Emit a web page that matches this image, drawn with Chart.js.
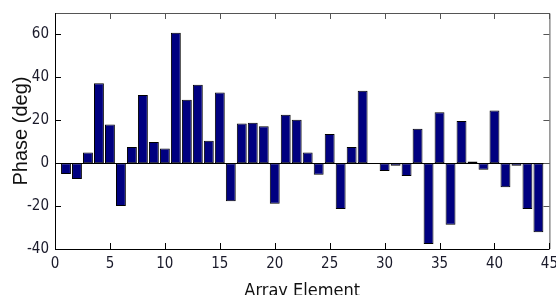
<!DOCTYPE html>
<html>
<head>
<meta charset="utf-8">
<script src="https://cdn.jsdelivr.net/npm/chart.js@4/dist/chart.umd.min.js"></script>
<style>
  html, body { margin: 0; padding: 0; background: #fff; }
  #wrap { width: 556px; height: 295px; position: relative; }
</style>
</head>
<body>
<div id="wrap"><canvas id="phaseChart"></canvas></div>
<script>
const elements = [];
for (let i = 1; i <= 44; i++) elements.push(i);
const phases = [
  -5, -7.4, 5, 37.3, 18, -20, 7.6, 31.8, 9.9, 6.8,
  60.8, 29.6, 36.6, 10.5, 32.9, -17.7, 18.5, 18.9, 17.2, -18.9,
  22.6, 20.3, 5, -5.4, 13.6, -21.4, 7.6, 33.8, 0, -3.7,
  -1.2, -6, 16.1, -37.7, 23.7, -28.7, 19.7, 0.8, -3.1, 24.5,
  -11.2, -1.2, -21.4, -32.2
];
const xTicks = [0, 5, 10, 15, 20, 25, 30, 35, 40, 45];
const yTicks = [-40, -20, 0, 20, 40, 60];

const font = "'DejaVu Sans Condensed', 'Liberation Sans Narrow', 'Liberation Sans', Arial, sans-serif";

// matlab style box: frame, inward ticks on all four sides, zero baseline
const boxPlugin = {
  id: "box",
  afterDatasetsDraw(chart) {
    const ctx = chart.ctx,
      a = chart.chartArea,
      xs = chart.scales.x,
      ys = chart.scales.y,
      tl = 6;
    ctx.save();
    ctx.lineWidth = 1;
    ctx.strokeStyle = "#000";
    const y0 = Math.round(ys.getPixelForValue(0)) + 0.5;
    ctx.beginPath();
    ctx.moveTo(a.left, y0);
    ctx.lineTo(a.right, y0);
    ctx.stroke();
    // top/right in grey
    ctx.strokeStyle = "#555";
    ctx.beginPath();
    ctx.moveTo(a.left, a.top + 0.5);
    ctx.lineTo(a.right + 0.5, a.top + 0.5);
    ctx.lineTo(a.right + 0.5, a.bottom);
    ctx.stroke();
    xTicks.forEach((v) => {
      const x = Math.round(xs.getPixelForValue(v)) + 0.5;
      ctx.beginPath();
      ctx.moveTo(x, a.top);
      ctx.lineTo(x, a.top + tl);
      ctx.stroke();
    });
    yTicks.forEach((v) => {
      const y = Math.round(ys.getPixelForValue(v)) + 0.5;
      ctx.beginPath();
      ctx.moveTo(a.right, y);
      ctx.lineTo(a.right - tl, y);
      ctx.stroke();
    });
    // left/bottom in black
    ctx.strokeStyle = "#000";
    ctx.beginPath();
    ctx.moveTo(a.left + 0.5, a.top);
    ctx.lineTo(a.left + 0.5, a.bottom + 0.5);
    ctx.lineTo(a.right, a.bottom + 0.5);
    ctx.stroke();
    xTicks.forEach((v) => {
      const x = Math.round(xs.getPixelForValue(v)) + 0.5;
      ctx.beginPath();
      ctx.moveTo(x, a.bottom);
      ctx.lineTo(x, a.bottom - tl);
      ctx.stroke();
    });
    yTicks.forEach((v) => {
      const y = Math.round(ys.getPixelForValue(v)) + 0.5;
      ctx.beginPath();
      ctx.moveTo(a.left, y);
      ctx.lineTo(a.left + tl, y);
      ctx.stroke();
    });
    ctx.restore();
  },
};

const ctx = document.getElementById("phaseChart").getContext("2d");
new Chart(ctx, {
  type: "bar",
  data: {
    datasets: [
      {
        data: elements.map((e, i) => ({ x: e, y: phases[i] })),
        backgroundColor: "#000080",
        borderColor: "#000",
        borderWidth: 1,
        borderSkipped: false,
        barPercentage: 0.9,
        categoryPercentage: 1,
      },
    ],
  },
  options: {
    responsive: true,
    maintainAspectRatio: false,
    animation: false,
    devicePixelRatio: 1,
    layout: { padding: { top: 13, right: 5, left: 0, bottom: 0 } },
    plugins: { legend: { display: false }, tooltip: { enabled: false } },
    scales: {
      x: {
        type: "linear",
        min: 0,
        max: 45,
        offset: false,
        grid: { display: false },
        border: { display: false },
        afterBuildTicks: (s) => (s.ticks = xTicks.map((v) => ({ value: v }))),
        afterFit: (s) => (s.height = 46),
        ticks: {
          padding: -2,
          color: "#1a1a2a",
          font: { family: font, size: 15 },
          maxRotation: 0,
        },
        title: {
          display: true,
          text: "Array Element",
          color: "#111",
          font: { family: font, size: 18 },
          padding: { top: 0, bottom: -7 },
        },
      },
      y: {
        min: -40,
        max: 70,
        grid: { display: false },
        border: { display: false },
        afterBuildTicks: (s) => (s.ticks = yTicks.map((v) => ({ value: v }))),
        afterFit: (s) => (s.width = 55),
        ticks: {
          padding: -2,
          color: "#1a1a2a",
          font: { family: font, size: 15 },
        },
        title: {
          display: true,
          text: "Phase (deg)",
          color: "#111",
          font: { family: "'Liberation Sans', Arial, sans-serif", size: 20 },
          padding: { top: 9, bottom: 0 },
        },
      },
    },
  },
  plugins: [boxPlugin],
});
</script>
</body>
</html>
